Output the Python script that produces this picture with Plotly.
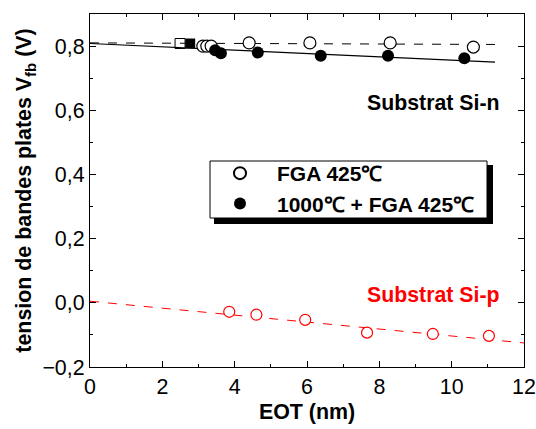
import plotly.graph_objects as go

# Flat-band voltage vs EOT
eot_n_fga = [3.12, 3.23, 3.35, 4.40, 6.08, 8.30, 10.60]
vfb_n_fga = [0.800, 0.800, 0.800, 0.810, 0.810, 0.810, 0.797]

eot_n_ht = [3.46, 3.62, 4.64, 6.38, 8.24, 10.35]
vfb_n_ht = [0.787, 0.778, 0.780, 0.770, 0.770, 0.762]

eot_ref_open = [2.49]
vfb_ref_open = [0.808]
eot_ref_fill = [2.77]
vfb_ref_fill = [0.808]

eot_p = [3.85, 4.60, 5.95, 7.66, 9.48, 11.03]
vfb_p = [-0.028, -0.037, -0.053, -0.093, -0.097, -0.103]

# linear fits (start/end)
fit_n_fga_x = [0.0, 11.4]
fit_n_fga_y = [0.810, 0.805]
fit_n_ht_x = [0.0, 11.2]
fit_n_ht_y = [0.808, 0.750]
fit_p_x = [0.0, 12.0]
fit_p_y = [0.005, -0.125]

FONT = "Liberation Sans, Arial, sans-serif"
FS = 21.4

fig = go.Figure()
fig.add_trace(go.Scatter(x=fit_n_fga_x, y=fit_n_fga_y, mode="lines",
                         line=dict(color="black", width=1, dash="dash"),
                         showlegend=False))
fig.add_trace(go.Scatter(x=fit_n_ht_x, y=fit_n_ht_y, mode="lines",
                         line=dict(color="black", width=1.2),
                         showlegend=False))
fig.add_trace(go.Scatter(x=fit_p_x, y=fit_p_y, mode="lines",
                         line=dict(color="red", width=1, dash="dash"),
                         showlegend=False))
fig.add_trace(go.Scatter(x=eot_ref_open, y=vfb_ref_open, mode="markers",
                         marker=dict(symbol="square-open", size=10, color="black",
                                     line=dict(width=1)),
                         showlegend=False))
fig.add_trace(go.Scatter(x=eot_ref_fill, y=vfb_ref_fill, mode="markers",
                         marker=dict(symbol="square", size=10, color="black"),
                         showlegend=False))
fig.add_trace(go.Scatter(x=eot_n_fga, y=vfb_n_fga, mode="markers",
                         name="<b>FGA 425℃</b>",
                         marker=dict(symbol="circle", size=12, color="white",
                                     line=dict(color="black", width=1.2))))
fig.add_trace(go.Scatter(x=eot_n_ht, y=vfb_n_ht, mode="markers",
                         name="<b>1000℃ + FGA 425℃</b>",
                         marker=dict(symbol="circle", size=12, color="black")))
fig.add_trace(go.Scatter(x=eot_p, y=vfb_p, mode="markers",
                         marker=dict(symbol="circle", size=11, color="white",
                                     line=dict(color="red", width=1.2)),
                         showlegend=False))

axis_common = dict(showline=True, linecolor="black", linewidth=1.2, mirror="ticks",
                   ticks="inside", ticklen=6, tickcolor="black", tickwidth=1,
                   showgrid=False, zeroline=False, automargin=False,
                   tickfont=dict(family=FONT, size=FS, color="black"))

fig.update_xaxes(range=[0, 12], tickvals=[0, 2, 4, 6, 8, 10, 12],
                 minor=dict(ticks="inside", ticklen=3, dtick=1, tickcolor="black"),
                 title=dict(text="<b>EOT (nm)</b>", font=dict(family=FONT, size=FS, color="black"),
                            standoff=6),
                 **axis_common)
fig.update_yaxes(range=[-0.2, 0.9], tickvals=[-0.2, 0.0, 0.2, 0.4, 0.6, 0.8],
                 tickformat=".1f",
                 minor=dict(ticks="inside", ticklen=3, dtick=0.1, tickcolor="black"),
                 title=dict(text="<b>tension de bandes plates V<sub>fb</sub> (V)</b>",
                            font=dict(family=FONT, size=FS, color="black"), standoff=4),
                 **axis_common)

# legend frame with drop shadow (plot area: x 90..524 px, y 14..367 px)
PW, PH = 434.0, 353.0
def px_x(p):
    return (p - 90) / PW
def px_y(p):
    return (367 - p) / PH

fig.add_shape(type="rect", xref="paper", yref="paper",
              x0=px_x(214), x1=px_x(493), y0=px_y(224), y1=px_y(165),
              fillcolor="black", line=dict(width=0), layer="above")
fig.add_shape(type="rect", xref="paper", yref="paper",
              x0=px_x(210), x1=px_x(487), y0=px_y(218), y1=px_y(161),
              fillcolor="white", line=dict(color="black", width=1), layer="above")

fig.add_annotation(text="<b>Substrat Si-n</b>", x=0.95, y=0.748, xref="paper", yref="paper",
                   xanchor="right", yanchor="middle", showarrow=False,
                   font=dict(family=FONT, size=21.3, color="black"))
fig.add_annotation(text="<b>Substrat Si-p</b>", x=0.95, y=0.204, xref="paper", yref="paper",
                   xanchor="right", yanchor="middle", showarrow=False,
                   font=dict(family=FONT, size=21.3, color="red"))

fig.update_layout(
    width=536, height=429,
    margin=dict(l=90, r=12, t=14, b=62),
    paper_bgcolor="white", plot_bgcolor="white",
    separators=",.",
    showlegend=True,
    legend=dict(x=px_x(203), y=px_y(153), xanchor="left", yanchor="top",
                bgcolor="rgba(0,0,0,0)", borderwidth=0,
                font=dict(family=FONT, size=21, color="black"),
                itemsizing="constant", itemwidth=64),
)

fig.write_html("out.html")
